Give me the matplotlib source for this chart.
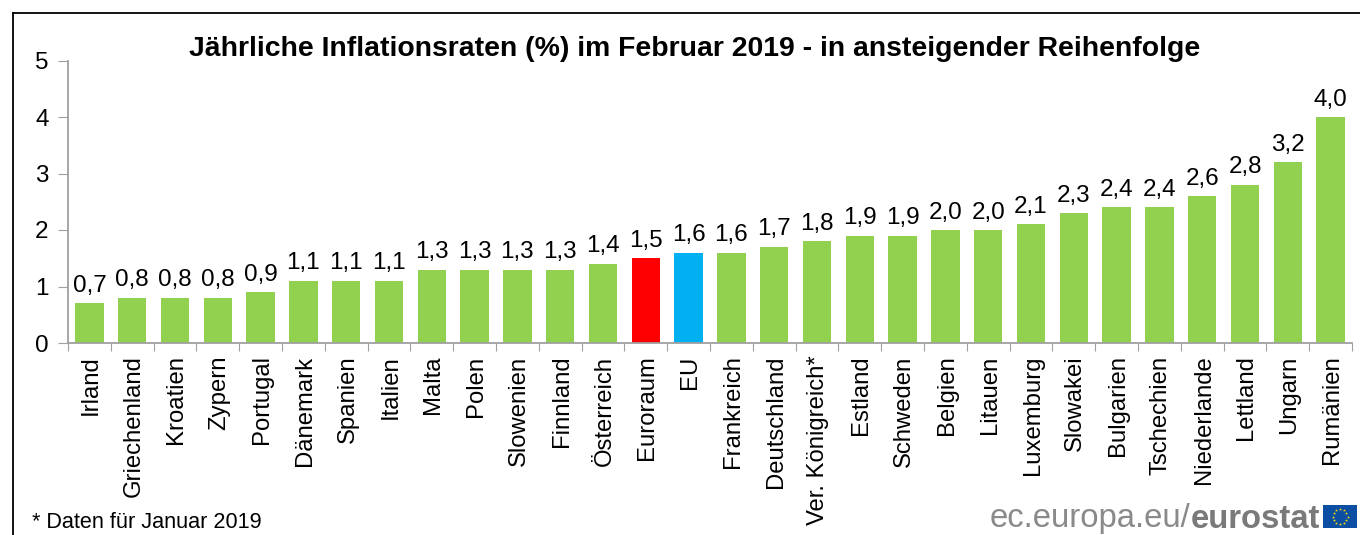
import matplotlib
matplotlib.use('Agg')
import matplotlib.pyplot as plt
import matplotlib.transforms as mtrans
import numpy as np
from matplotlib.lines import Line2D

plt.rcParams['font.family'] = ['Liberation Sans', 'DejaVu Sans']

laender = ['Irland', 'Griechenland', 'Kroatien', 'Zypern', 'Portugal', 'Dänemark', 'Spanien', 'Italien',
           'Malta', 'Polen', 'Slowenien', 'Finnland', 'Österreich', 'Euroraum', 'EU', 'Frankreich',
           'Deutschland', 'Ver. Königreich*', 'Estland', 'Schweden', 'Belgien', 'Litauen', 'Luxemburg',
           'Slowakei', 'Bulgarien', 'Tschechien', 'Niederlande', 'Lettland', 'Ungarn', 'Rumänien']
werte = [0.7, 0.8, 0.8, 0.8, 0.9, 1.1, 1.1, 1.1, 1.3, 1.3, 1.3, 1.3, 1.4, 1.5, 1.6, 1.6,
         1.7, 1.8, 1.9, 1.9, 2.0, 2.0, 2.1, 2.3, 2.4, 2.4, 2.6, 2.8, 3.2, 4.0]
sonderfarben = {'Euroraum': '#ff0000', 'EU': '#00b0f0'}

W, H = 1360, 535
fig = plt.figure(figsize=(W / 100, H / 100), dpi=100)
ax = fig.add_axes([68 / W, 1 - 343 / H, (1352 - 68) / W, (343 - 60.5) / H])

farben = [sonderfarben.get(l, '#92d050') for l in laender]
x = np.arange(len(laender))
ax.bar(x, werte, width=0.665, color=farben)
for i, v in zip(x, werte):
    ax.text(i, v + 0.115, f'{v:.1f}'.replace('.', ','), ha='center', va='bottom', fontsize=17.5, color='black')

ax.set_xlim(-0.5, len(laender) - 0.5)
ax.set_ylim(0, 5)
ax.spines['top'].set_visible(False)
ax.spines['right'].set_visible(False)
ax.spines['left'].set_color('#a0a0a0')
ax.spines['bottom'].set_color('#a0a0a0')
ax.spines['left'].set_linewidth(1.3)
ax.spines['bottom'].set_linewidth(1.3)

ax.set_yticks(range(6))
ax.tick_params(axis='y', length=7, color='#a0a0a0', labelsize=17.5, pad=7)
# striche zwischen den balken, beschriftung mittig
ax.set_xticks(np.arange(len(laender) + 1) - 0.5)
ax.set_xticklabels([])
ax.tick_params(axis='x', length=6, color='#a0a0a0')
ax.set_xticks(x, minor=True)
ax.set_xticklabels(laender, minor=True, rotation=90, fontsize=17.2)
ax.tick_params(axis='x', which='minor', length=0, pad=9)
versatz = mtrans.ScaledTranslation(1.5 / 100, 0, fig.dpi_scale_trans)
for lab in ax.get_xticklabels(minor=True):
    lab.set_transform(lab.get_transform() + versatz)

fig.text(695 / W, 1 - 49.5 / H, 'Jährliche Inflationsraten (%) im Februar 2019 - in ansteigender Reihenfolge',
         ha='center', va='center', fontsize=20.45, fontweight='bold')
fig.text(32 / W, 1 - 522 / H, '* Daten für Januar 2019', ha='left', va='center', fontsize=15.6)

# rahmen
fig.add_artist(Line2D([12.5 / W, 12.5 / W], [0, 1 - 12.5 / H], color='black', lw=1.3))
fig.add_artist(Line2D([12.5 / W, 1], [1 - 12.5 / H, 1 - 12.5 / H], color='black', lw=1.3))

# logo
t = fig.text(1320 / W, 1 - 519 / H, 'eurostat', ha='right', va='center', fontsize=23.7, fontweight='bold', color='#7a7a7a')
fig.canvas.draw()
links = t.get_window_extent().x0
fig.text(links / W, 1 - 519 / H, 'ec.europa.eu/', ha='right', va='center', fontsize=23.7, color='#8a8a8a')
stern_ax = fig.add_axes([1323 / W, 1 - 528 / H, 34 / W, 23 / H])
stern_ax.set_facecolor('#0b4ea2')
stern_ax.set_xticks([])
stern_ax.set_yticks([])
for s in stern_ax.spines.values():
    s.set_visible(False)
stern_ax.set_xlim(-17, 17)
stern_ax.set_ylim(-11.5, 11.5)
winkel = np.arange(12) * np.pi / 6
stern_ax.scatter(7.5 * np.cos(winkel), 7.5 * np.sin(winkel), s=5, color='#ffdd00', marker='*', linewidths=0)

fig.savefig('out.png', dpi=100)
